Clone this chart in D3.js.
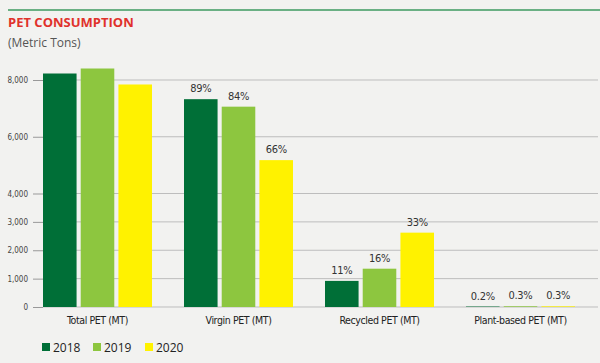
<!DOCTYPE html>
<html>
<head>
<meta charset="utf-8">
<script src="https://cdn.jsdelivr.net/npm/d3@7"></script>
<style>
  body { margin: 0; background: #f2f2f0; }
  svg { display: block; }
</style>
</head>
<body>
<div id="chart"></div>
<script>
const categories = ['Total PET (MT)', 'Virgin PET (MT)', 'Recycled PET (MT)', 'Plant-based PET (MT)'];
const years = ['2018', '2019', '2020'];
const values2018 = [8229, 7324, 920, 16];
const values2019 = [8405, 7060, 1350, 25];
const values2020 = [7842, 5176, 2620, 24];
const shares2018 = ['', '89%', '11%', '0.2%'];
const shares2019 = ['', '84%', '16%', '0.3%'];
const shares2020 = ['', '66%', '33%', '0.3%'];
const yTicks = [0, 1000, 2000, 3000, 4000, 6000, 8000];
const colors = ['#006f37', '#8dc63f', '#fff200'];

const width = 600, height = 363;
const font = '"DejaVu Sans Condensed", sans-serif';

const seriesValues = [values2018, values2019, values2020];
const seriesShares = [shares2018, shares2019, shares2020];

const svg = d3.select('#chart')
  .append('svg')
  .attr('width', width)
  .attr('height', height);

svg.append('rect').attr('width', width).attr('height', height).attr('fill', '#f2f2f0');

// header
svg.append('line')
  .attr('x1', 8).attr('x2', width).attr('y1', 10).attr('y2', 10)
  .attr('stroke', '#3d9a60').attr('stroke-width', 1.5);

svg.append('text')
  .attr('x', 8).attr('y', 27)
  .attr('font-family', '"Open Sans", sans-serif')
  .attr('font-weight', 'bold')
  .attr('font-size', 13)
  .attr('fill', '#e0312b')
  .text('PET CONSUMPTION');

svg.append('text')
  .attr('x', 8).attr('y', 47)
  .attr('font-family', '"Open Sans", sans-serif')
  .attr('font-size', 12)
  .attr('fill', '#555')
  .text('(Metric Tons)');

const y = d3.scaleLinear().domain([0, 8000]).range([307, 80]);

const x0 = d3.scaleBand().domain(categories).range([43, 575]).paddingInner(0.227);
const x1 = d3.scaleBand().domain(years).range([0, x0.bandwidth()]).paddingInner(0.11);

// gridlines
svg.append('g')
  .selectAll('line')
  .data(yTicks)
  .enter()
  .append('line')
  .attr('x1', 43).attr('x2', 598)
  .attr('y1', d => y(d)).attr('y2', d => y(d))
  .attr('stroke', '#bdbdbd').attr('stroke-width', 1);

// y axis
const yAxis = svg.append('g')
  .attr('transform', 'translate(43,0)')
  .call(d3.axisLeft(y).tickValues(yTicks).tickSize(10).tickPadding(5).tickFormat(d3.format(',')));
yAxis.select('.domain').remove();
yAxis.selectAll('line').attr('stroke', '#999');
yAxis.selectAll('text')
  .attr('font-family', font)
  .attr('font-size', 8)
  .attr('fill', '#444');

// bars
const groups = svg.append('g')
  .selectAll('g')
  .data(categories)
  .enter()
  .append('g')
  .attr('transform', d => `translate(${x0(d)},0)`);

groups.selectAll('rect')
  .data((d, i) => years.map((yr, j) => ({ yr, v: seriesValues[j][i] })))
  .enter()
  .append('rect')
  .attr('x', d => x1(d.yr))
  .attr('y', d => y(d.v))
  .attr('width', x1.bandwidth())
  .attr('height', d => y(0) - y(d.v))
  .attr('fill', (d, j) => colors[j]);

groups.selectAll('.share')
  .data((d, i) => years.map((yr, j) => ({ yr, v: seriesValues[j][i], s: seriesShares[j][i] })))
  .enter()
  .append('text')
  .attr('class', 'share')
  .attr('x', d => x1(d.yr) + x1.bandwidth() / 2)
  .attr('y', d => y(d.v) - 7)
  .attr('text-anchor', 'middle')
  .attr('font-family', font)
  .attr('font-size', 11)
  .attr('letter-spacing', -0.3)
  .attr('fill', '#333')
  .text(d => d.s);

// category labels
svg.append('g')
  .selectAll('text')
  .data(categories)
  .enter()
  .append('text')
  .attr('x', d => x0(d) + x0.bandwidth() / 2)
  .attr('y', 324)
  .attr('text-anchor', 'middle')
  .attr('font-family', font)
  .attr('font-size', 10.5)
  .attr('letter-spacing', -0.4)
  .attr('fill', '#222')
  .text(d => d);

// legend
const legendX = [42, 93, 145];
const legend = svg.append('g')
  .selectAll('g')
  .data(years)
  .enter()
  .append('g')
  .attr('transform', (d, i) => `translate(${legendX[i]},343)`);

legend.append('rect')
  .attr('width', 8).attr('height', 8)
  .attr('fill', (d, i) => colors[i]);

legend.append('text')
  .attr('x', 11).attr('y', 8.5)
  .attr('font-family', '"Open Sans", sans-serif')
  .attr('font-size', 12)
  .attr('fill', '#222')
  .text(d => d);
</script>
</body>
</html>
